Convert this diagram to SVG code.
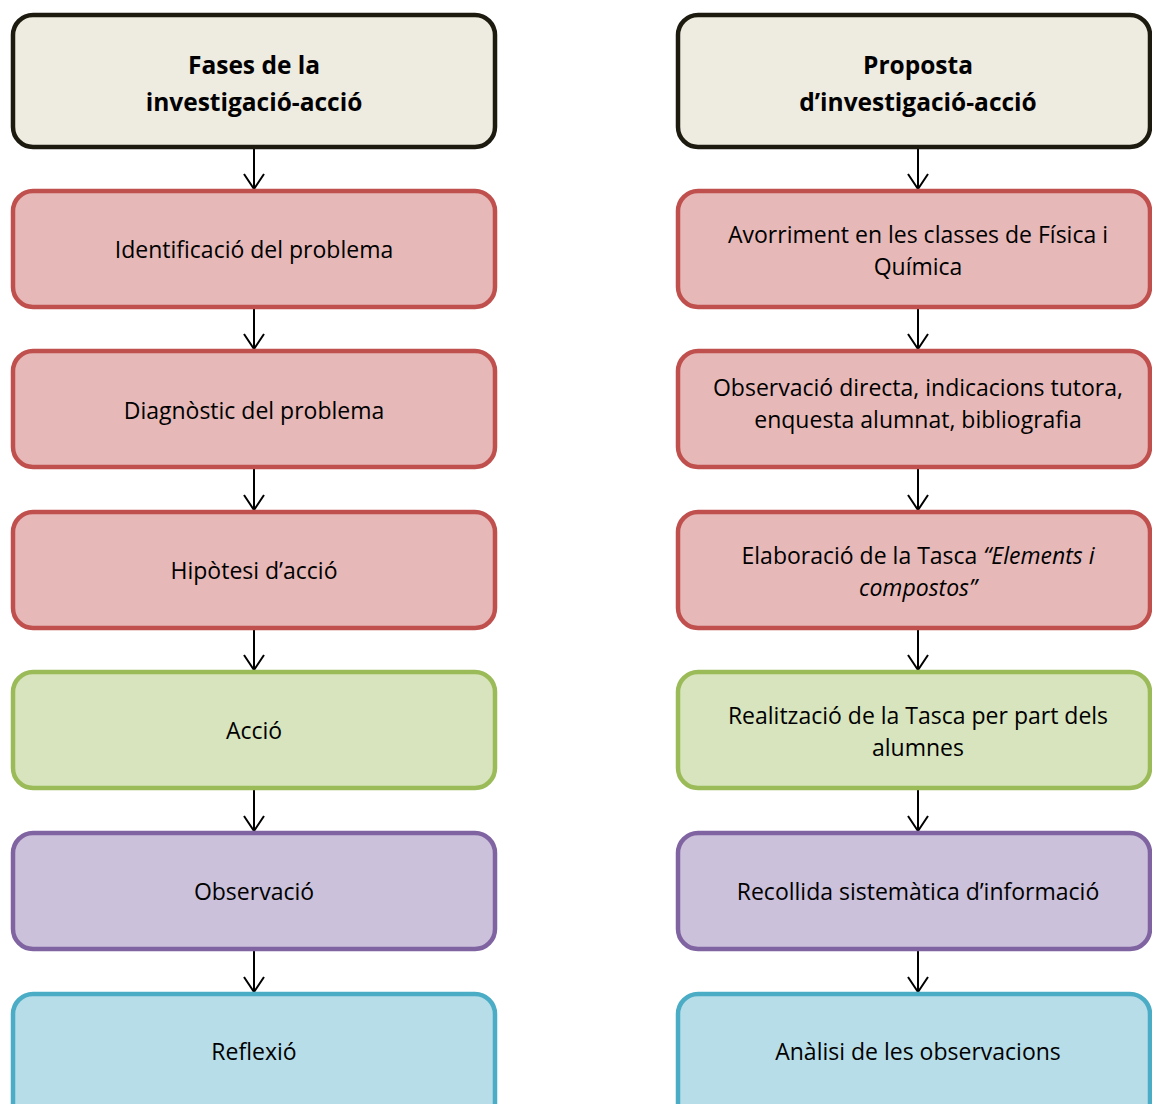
<svg xmlns="http://www.w3.org/2000/svg" width="1152" height="1104" viewBox="0 0 1152 1104">
<defs>
<style>
.box{stroke-width:4.5}
.hd{fill:#EEEBE0;stroke:#1D1B10}
.r{fill:#E6B8B7;stroke:#C0504D}
.g{fill:#D7E4BD;stroke:#9BBB59}
.p{fill:#CCC1DA;stroke:#8064A2}
.b{fill:#B7DDE8;stroke:#4BACC6}
text{font-family:"Open Sans","Liberation Sans",sans-serif;font-size:23px;fill:#000;text-anchor:middle;dominant-baseline:central}
.bold{font-weight:bold;font-size:24.5px}
.conn line{stroke:#000;stroke-width:2;fill:none;marker-end:url(#ah)}
</style>
<marker id="ah" viewBox="0 0 20 24" refX="18" refY="12" markerWidth="20" markerHeight="24" markerUnits="userSpaceOnUse" orient="auto">
<path d="M3,2 L18,12 L3,22" stroke="#000" stroke-width="2" fill="none"/>
</marker>
</defs>
<rect width="1152" height="1104" fill="#fff"/>
<g class="conn">
<line x1="254" y1="149" x2="254" y2="189"/>
<line x1="254" y1="309" x2="254" y2="349"/>
<line x1="254" y1="469" x2="254" y2="510"/>
<line x1="254" y1="630" x2="254" y2="670"/>
<line x1="254" y1="790" x2="254" y2="831"/>
<line x1="254" y1="951" x2="254" y2="992"/>
<line x1="918" y1="149" x2="918" y2="189"/>
<line x1="918" y1="309" x2="918" y2="349"/>
<line x1="918" y1="469" x2="918" y2="510"/>
<line x1="918" y1="630" x2="918" y2="670"/>
<line x1="918" y1="790" x2="918" y2="831"/>
<line x1="918" y1="951" x2="918" y2="992"/>
</g>
<g id="L0"><rect class="box hd" x="13" y="15" width="482" height="132" rx="20"/><text class="bold" x="254" y="64">Fases de la</text><text class="bold" x="254" y="101">investigació-acció</text></g>
<g id="L1"><rect class="box r" x="13" y="191" width="482" height="116" rx="20"/><text x="254" y="249">Identificació del problema</text></g>
<g id="L2"><rect class="box r" x="13" y="351" width="482" height="116" rx="20"/><text x="254" y="410">Diagnòstic del problema</text></g>
<g id="L3"><rect class="box r" x="13" y="512" width="482" height="116" rx="20"/><text x="254" y="570">Hipòtesi d’acció</text></g>
<g id="L4"><rect class="box g" x="13" y="672" width="482" height="116" rx="20"/><text x="254" y="730">Acció</text></g>
<g id="L5"><rect class="box p" x="13" y="833" width="482" height="116" rx="20"/><text x="254" y="891">Observació</text></g>
<g id="L6"><rect class="box b" x="13" y="994" width="482" height="130" rx="20"/><text x="254" y="1051">Reflexió</text></g>
<g id="R0"><rect class="box hd" x="678" y="15" width="472" height="132" rx="20"/><text class="bold" x="918" y="64">Proposta</text><text class="bold" x="918" y="101">d’investigació-acció</text></g>
<g id="R1"><rect class="box r" x="678" y="191" width="472" height="116" rx="20"/><text x="918" y="234">Avorriment en les classes de Física i</text><text x="918" y="266">Química</text></g>
<g id="R2"><rect class="box r" x="678" y="351" width="472" height="116" rx="20"/><text x="918" y="387">Observació directa, indicacions tutora,</text><text x="918" y="419">enquesta alumnat, bibliografia</text></g>
<g id="R3"><rect class="box r" x="678" y="512" width="472" height="116" rx="20"/><text x="918" y="555">Elaboració de la Tasca <tspan font-style="italic">“Elements i</tspan></text><text x="918" y="587" font-style="italic">compostos”</text></g>
<g id="R4"><rect class="box g" x="678" y="672" width="472" height="116" rx="20"/><text x="918" y="715">Realització de la Tasca per part dels</text><text x="918" y="747">alumnes</text></g>
<g id="R5"><rect class="box p" x="678" y="833" width="472" height="116" rx="20"/><text x="918" y="891">Recollida sistemàtica d’informació</text></g>
<g id="R6"><rect class="box b" x="678" y="994" width="472" height="130" rx="20"/><text x="918" y="1051">Anàlisi de les observacions</text></g>
</svg>
